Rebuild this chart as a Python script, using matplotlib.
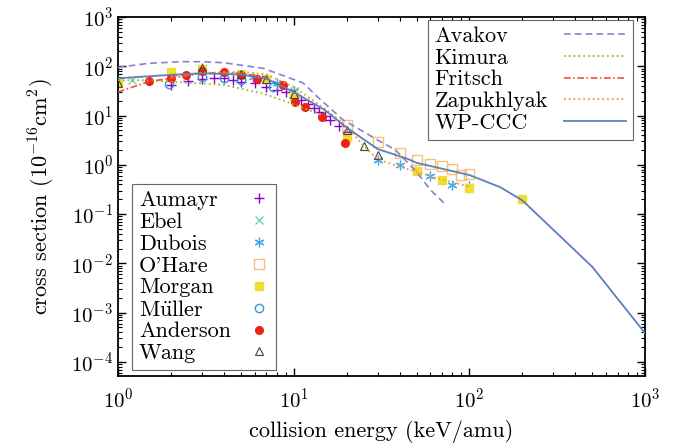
import numpy as np
import matplotlib
matplotlib.use("Agg")
import matplotlib.pyplot as plt

plt.rcParams['font.family'] = ['cmr10']
plt.rcParams['mathtext.fontset'] = 'cm'
plt.rcParams['axes.formatter.use_mathtext'] = True
plt.rcParams['axes.unicode_minus'] = False

# theory curves (keV/amu, 1e-16 cm^2)
avakov_e = [1, 1.5, 2.3, 3, 4, 6.7, 9, 11.3, 14, 19, 30, 38, 50, 60, 74]
avakov_s = [95, 115, 124, 124, 118, 91, 62, 46, 22, 8.3, 3.2, 2.0, 0.72, 0.31, 0.15]
kimura_e = [1, 1.5, 2.6, 4, 6.7, 9.5, 14.7]
kimura_s = [52, 52, 46, 42, 28, 18, 10]
fritsch_e = [1, 1.5, 2.6, 3, 4, 5, 7]
fritsch_s = [30, 49, 66, 72, 75, 72, 60]
zap_e = [2, 3, 5, 7, 10, 15, 20, 25, 30, 40, 50, 70, 100]
zap_s = [62, 74, 77, 68, 38, 14, 6.2, 2.4, 1.3, 0.92, 0.72, 0.5, 0.36]
ccc_e = [1, 2, 3, 5, 7, 10, 15, 20, 30, 45, 50, 100, 150, 200, 500, 1000]
ccc_s = [57, 67, 72, 68, 56, 30, 13, 5.7, 2.1, 1.3, 1.1, 0.62, 0.35, 0.19, 0.0085, 0.00038]

# experiments
aumayr_e = [2, 2.5, 3, 3.5, 4, 4.5, 5, 6, 7, 8, 9, 10, 11, 12, 13, 14, 15, 16, 18, 20]
aumayr_s = [42, 50, 54, 59, 58, 52, 49, 45, 38, 33, 30, 24, 20.5, 17, 14, 12, 9.8, 8.1, 6, 4.6]
ebel_e = [1.2, 3, 10]
ebel_s = [52, 90, 32]
dubois_e = [3, 5.9, 8, 10, 30, 40, 60, 80, 100]
dubois_s = [92, 62, 46, 32, 1.25, 0.98, 0.59, 0.39, 0.38]
ohare_e = [20, 30, 40, 50, 60, 70, 80, 90, 100]
ohare_s = [6.4, 2.9, 1.76, 1.25, 1.02, 0.94, 0.82, 0.62, 0.64]
morgan_e = [1, 2, 3, 5, 7, 10, 20, 50, 70, 100, 200]
morgan_s = [45, 75, 88, 70, 55, 25, 3.7, 0.76, 0.49, 0.34, 0.2]
muller_e = [1.95, 3, 4, 5, 7.6]
muller_s = [44, 61, 57, 53, 38]
anderson_e = [1.5, 2, 2.44, 3, 4, 5, 6.15, 8.7, 10.2, 11.6, 14.4, 19.6]
anderson_s = [51, 59, 68, 80, 78, 66, 55, 41, 19, 15, 9.2, 2.8]
wang_e = [1, 3, 5, 7, 10, 20, 25, 30]
wang_s = [45, 92, 70, 55, 28, 5.1, 2.4, 1.58]

fig = plt.figure(figsize=(6.82, 4.48), dpi=100)
ax = fig.add_axes([0.173, 0.161, 0.773, 0.801])

m1 = ax.plot(aumayr_e, aumayr_s, '+', color='#8800cc', ms=7, mew=1.0, label='Aumayr')[0]
m2 = ax.plot(ebel_e, ebel_s, 'x', color='#66ccb0', ms=5.5, mew=0.9, label='Ebel')[0]
m3 = ax.plot(dubois_e, dubois_s, marker=(6, 2, 0), ls='none', color='#44aaee', ms=7, mew=0.9, label='Dubois')[0]
m4 = ax.plot(ohare_e, ohare_s, 's', color='#f5c07a', mfc='none', ms=6.5, mew=1.0, label="O'Hare")[0]
m5 = ax.plot(morgan_e, morgan_s, 's', color='#eedd33', ms=6, label='Morgan')[0]
m6 = ax.plot(muller_e, muller_s, 'o', color='#3399dd', mfc='none', ms=6, mew=1.0, label=r'M$\ddot{\mathrm{u}}$ller')[0]
m7 = ax.plot(anderson_e, anderson_s, 'o', color='#ee2211', ms=5.5, label='Anderson')[0]
m8 = ax.plot(wang_e, wang_s, '^', color='#444444', mfc='none', ms=5.5, mew=0.8, label='Wang')[0]

l1 = ax.plot(avakov_e, avakov_s, '--', color='#8a7fcc', lw=1.2, dashes=(4, 2.5), zorder=3, label='Avakov')[0]
l2 = ax.plot(kimura_e, kimura_s, ':', color='#99bb33', lw=1.3, zorder=3, label='Kimura')[0]
l3 = ax.plot(fritsch_e, fritsch_s, '-.', color='#ee5533', lw=1.2, zorder=3, dashes=(4, 1.5, 1, 1.5), label='Fritsch')[0]
l4 = ax.plot(zap_e, zap_s, ':', color='#f0a030', lw=1.3, zorder=3, label='Zapukhlyak')[0]
l5 = ax.plot(ccc_e, ccc_s, '-', color='#5b7fbf', lw=1.3, zorder=3, label='WP-CCC')[0]

ax.set_xscale('log')
ax.set_yscale('log')
ax.set_xlim(1, 1000)
ax.set_ylim(5.2e-5, 1000)
ax.set_xticks([1, 10, 100, 1000])
ax.set_yticks([1e-4, 1e-3, 1e-2, 1e-1, 1, 10, 100, 1000])
ax.tick_params(which='both', direction='in', top=True, right=True, labelsize=15)
ax.tick_params(which='major', length=6, width=1)
ax.tick_params(which='minor', length=3, width=0.8)
ax.tick_params(axis='x', pad=8)
for s in ax.spines.values():
    s.set_linewidth(1.3)

ax.set_xlabel('collision energy (keV/amu)', fontsize=16, labelpad=6)
ax.set_ylabel(r'cross section $(10^{-16}\mathrm{cm}^2)$', fontsize=16, labelpad=10)

leg1 = ax.legend(handles=[l1, l2, l3, l4, l5], loc='upper right', bbox_to_anchor=(0.976, 0.993),
                 borderaxespad=0, fontsize=16, markerfirst=False, handlelength=2.8,
                 handletextpad=0.7, labelspacing=0.1,
                 fancybox=False, edgecolor='#666666', framealpha=1, borderpad=0.3)
leg1.get_frame().set_linewidth(0.8)
ax.add_artist(leg1)
leg2 = ax.legend(handles=[m1, m2, m3, m4, m5, m6, m7, m8], loc='lower left', bbox_to_anchor=(0.027, 0.017),
                 borderaxespad=0, fontsize=16, markerfirst=False, handlelength=1.0,
                 handletextpad=0.75, labelspacing=0.1,
                 fancybox=False, edgecolor='#666666', framealpha=1, borderpad=0.3, numpoints=1)
leg2.get_frame().set_linewidth(0.8)

# left-align legend text while keeping handles on the right
fig.canvas.draw()
r = fig.canvas.get_renderer()
for leg in (leg1, leg2):
    col = leg._legend_handle_box.get_children()[0]
    rows = col.get_children()
    widths = [row.get_children()[0].get_bbox(r).width for row in rows]
    mw = max(widths)
    for row, w in zip(rows, widths):
        row.sep = row.sep + (mw - w) / r.points_to_pixels(1.0)

fig.savefig('out.png', dpi=100)
